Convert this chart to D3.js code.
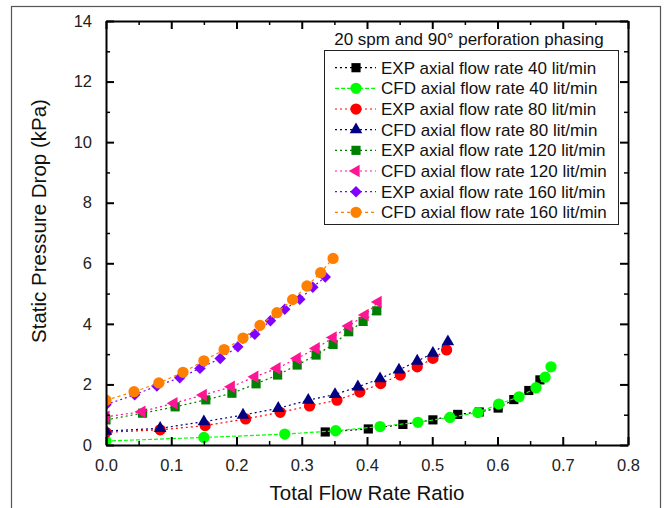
<!DOCTYPE html>
<html>
<head>
<meta charset="utf-8">
<script src="https://cdn.jsdelivr.net/npm/d3@7"></script>
<style>
  body { margin: 0; background: #fff; }
  svg { display: block; font-family: "Liberation Sans", Arial, sans-serif; }
</style>
</head>
<body>
<div id="chart"></div>
<script>
// Constantes
const WIDTH = 668;
const HEIGHT = 508;
const margin = { top: 21, right: 40, bottom: 63, left: 106 };
const width = WIDTH - margin.left - margin.right;
const height = HEIGHT - margin.top - margin.bottom;

// Datos
const exp40X = [0.336, 0.402, 0.455, 0.501, 0.539, 0.572, 0.601, 0.625, 0.648, 0.665];
const exp40Y = [0.43, 0.53, 0.68, 0.83, 1.01, 1.09, 1.22, 1.50, 1.80, 2.15];
const cfd40X = [0, 0.150, 0.274, 0.352, 0.420, 0.478, 0.527, 0.570, 0.602, 0.633, 0.659, 0.673, 0.682];
const cfd40Y = [0.13, 0.25, 0.36, 0.47, 0.61, 0.75, 0.91, 1.07, 1.35, 1.59, 1.89, 2.24, 2.58];
const exp80X = [0, 0.083, 0.152, 0.214, 0.267, 0.312, 0.354, 0.389, 0.421, 0.451, 0.477, 0.501, 0.522];
const exp80Y = [0.42, 0.50, 0.64, 0.86, 1.08, 1.29, 1.48, 1.75, 2.03, 2.31, 2.58, 2.86, 3.14];
const cfd80X = [0, 0.083, 0.150, 0.210, 0.264, 0.310, 0.351, 0.386, 0.420, 0.449, 0.477, 0.501, 0.524];
const cfd80Y = [0.46, 0.55, 0.77, 0.99, 1.21, 1.48, 1.67, 1.92, 2.19, 2.48, 2.77, 3.03, 3.41];
const exp120X = [0, 0.056, 0.106, 0.153, 0.193, 0.230, 0.263, 0.293, 0.322, 0.348, 0.372, 0.394, 0.415];
const exp120Y = [0.83, 1.05, 1.26, 1.49, 1.71, 2.02, 2.31, 2.64, 2.97, 3.32, 3.74, 4.08, 4.43];
const cfd120X = [0, 0.055, 0.104, 0.149, 0.192, 0.228, 0.262, 0.293, 0.322, 0.348, 0.372, 0.397, 0.417];
const cfd120Y = [0.93, 1.10, 1.38, 1.65, 1.92, 2.25, 2.53, 2.86, 3.19, 3.55, 3.93, 4.29, 4.72];
const exp160X = [0, 0.044, 0.078, 0.113, 0.144, 0.175, 0.202, 0.228, 0.252, 0.274, 0.297, 0.317, 0.336];
const exp160Y = [1.33, 1.66, 1.95, 2.22, 2.53, 2.86, 3.24, 3.66, 4.10, 4.48, 4.81, 5.21, 5.55];
const cfd160X = [0, 0.043, 0.081, 0.118, 0.150, 0.181, 0.210, 0.236, 0.262, 0.286, 0.308, 0.329, 0.348];
const cfd160Y = [1.48, 1.76, 2.05, 2.40, 2.78, 3.15, 3.53, 3.95, 4.37, 4.80, 5.25, 5.69, 6.16];

const seriesNames = [
  "EXP axial flow rate 40 lit/min",
  "CFD axial flow rate 40 lit/min",
  "EXP axial flow rate 80 lit/min",
  "CFD axial flow rate 80 lit/min",
  "EXP axial flow rate 120 lit/min",
  "CFD axial flow rate 120 lit/min",
  "EXP axial flow rate 160 lit/min",
  "CFD axial flow rate 160 lit/min"
];
const legendTitle = "20 spm and 90° perforation phasing";
const xTicks = [0, 0.1, 0.2, 0.3, 0.4, 0.5, 0.6, 0.7, 0.8];
const yTicks = [0, 2, 4, 6, 8, 10, 12, 14];

// Estilos por serie
const colors = ["#000000", "#00ff00", "#ff0000", "#000080", "#008000", "#ff1493", "#8000ff", "#ff8000"];
const shapes = ["square", "circle", "circle", "triangle", "square", "left", "diamond", "circle"];
const dashes = ["2,3", "4,2", "2,3", "2,3", "2,3", "2,3", "2,3", "3,3"];

const xs = [exp40X, cfd40X, exp80X, cfd80X, exp120X, cfd120X, exp160X, cfd160X];
const ys = [exp40Y, cfd40Y, exp80Y, cfd80Y, exp120Y, cfd120Y, exp160Y, cfd160Y];
const series = seriesNames.map((name, i) => ({
  name,
  color: colors[i],
  shape: shapes[i],
  dash: dashes[i],
  values: xs[i].map((x, j) => ({ x, y: ys[i][j] }))
}));

// svg
const svg = d3.select("#chart")
  .append("svg")
  .attr("width", WIDTH)
  .attr("height", HEIGHT);

// Marco exterior
svg.append("rect")
  .attr("x", 11.5).attr("y", 6.5)
  .attr("width", 649).attr("height", 520)
  .attr("fill", "none")
  .attr("stroke", "#555")
  .attr("stroke-width", 1.2);

const g = svg.append("g")
  .attr("transform", `translate(${margin.left}, ${margin.top})`);

// Recorte del área de datos
g.append("clipPath")
  .attr("id", "clip")
  .append("rect")
  .attr("width", width)
  .attr("height", height);

// Escalas
const x = d3.scaleLinear().domain([0, 0.8]).range([0, width]);
const y = d3.scaleLinear().domain([0, 14]).range([height, 0]);

const line = d3.line().x(d => x(d.x)).y(d => y(d.y));

// Símbolos
function symbolPath(shape) {
  if (shape === "square") return d3.symbol(d3.symbolSquare, 84)();
  if (shape === "circle") return d3.symbol(d3.symbolCircle, 100)();
  if (shape === "triangle") return d3.symbol(d3.symbolTriangle, 68)();
  if (shape === "left") return d3.symbol(d3.symbolTriangle, 68)();
  if (shape === "diamond") return d3.symbol(d3.symbolSquare, 66)();
}
function symbolRotate(shape) {
  if (shape === "left") return -90;
  if (shape === "diamond") return 45;
  return 0;
}

// Series
const plot = g.append("g").attr("clip-path", "url(#clip)");
series.forEach(s => {
  plot.append("path")
    .datum(s.values)
    .attr("d", line)
    .attr("fill", "none")
    .attr("stroke", s.color)
    .attr("stroke-width", 1.2)
    .attr("stroke-dasharray", s.dash);
  plot.append("g")
    .selectAll("path")
    .data(s.values)
    .join("path")
    .attr("d", symbolPath(s.shape))
    .attr("transform", d => `translate(${x(d.x)},${y(d.y)}) rotate(${symbolRotate(s.shape)})`)
    .attr("fill", s.color);
});

// Ejes con ticks hacia adentro
function drawAxis(axis, transform, ticksMajor, ticksMinor, fmt) {
  const major = g.append("g").attr("transform", transform)
    .call(axis.tickValues(ticksMajor).tickSizeInner(-8).tickSizeOuter(0)
      .tickPadding(fmt ? 14 : 0).tickFormat(fmt ? fmt : ""));
  major.select(".domain").attr("stroke-width", 2);
  major.selectAll(".tick line").attr("stroke-width", 2);
  major.selectAll("text").attr("font-size", 16.5).attr("fill", "#222");
  const minor = g.append("g").attr("transform", transform)
    .call(axis.tickValues(ticksMinor).tickSizeInner(-4).tickSizeOuter(0).tickFormat(""));
  minor.select(".domain").remove();
  minor.selectAll(".tick line").attr("stroke-width", 1.5);
}

const xMinor = d3.range(0.05, 0.8, 0.1);
const yMinor = d3.range(1, 14, 2);
drawAxis(d3.axisBottom(x), `translate(0,${height})`, xTicks, xMinor, d3.format(".1f"));
drawAxis(d3.axisTop(x), "translate(0,0)", xTicks, xMinor, null);
drawAxis(d3.axisLeft(y), "translate(0,0)", yTicks, yMinor, d3.format("d"));
drawAxis(d3.axisRight(y), `translate(${width},0)`, yTicks, yMinor, null);

// Títulos de ejes
svg.append("text")
  .attr("x", margin.left + width / 2)
  .attr("y", 500)
  .attr("text-anchor", "middle")
  .attr("font-size", 20.5)
  .attr("fill", "#111")
  .text("Total Flow Rate Ratio");

svg.append("text")
  .attr("transform", "translate(46, 221) rotate(-90)")
  .attr("text-anchor", "middle")
  .attr("font-size", 20.5)
  .attr("fill", "#111")
  .text("Static Pressure Drop (kPa)");

// Leyenda
svg.append("text")
  .attr("x", 469)
  .attr("y", 45)
  .attr("text-anchor", "middle")
  .attr("font-size", 17)
  .attr("fill", "#111")
  .text(legendTitle);

const legend = svg.append("g");
legend.append("rect")
  .attr("x", 324.5).attr("y", 50.5)
  .attr("width", 294).attr("height", 174)
  .attr("fill", "#fff")
  .attr("stroke", "#222")
  .attr("stroke-width", 1);

const rows = legend.selectAll("g.row")
  .data(series)
  .join("g")
  .attr("class", "row")
  .attr("transform", (d, i) => `translate(0, ${67.7 + i * 20.66})`);

rows.append("line")
  .attr("x1", 335).attr("x2", 376)
  .attr("stroke", d => d.color)
  .attr("stroke-width", 1.2)
  .attr("stroke-dasharray", d => d.dash);

rows.append("path")
  .attr("d", d => symbolPath(d.shape))
  .attr("transform", d => `translate(356,0) rotate(${symbolRotate(d.shape)})`)
  .attr("fill", d => d.color);

rows.append("text")
  .attr("x", 381)
  .attr("y", 6)
  .attr("font-size", 17)
  .attr("fill", "#111")
  .text(d => d.name);
</script>
</body>
</html>
